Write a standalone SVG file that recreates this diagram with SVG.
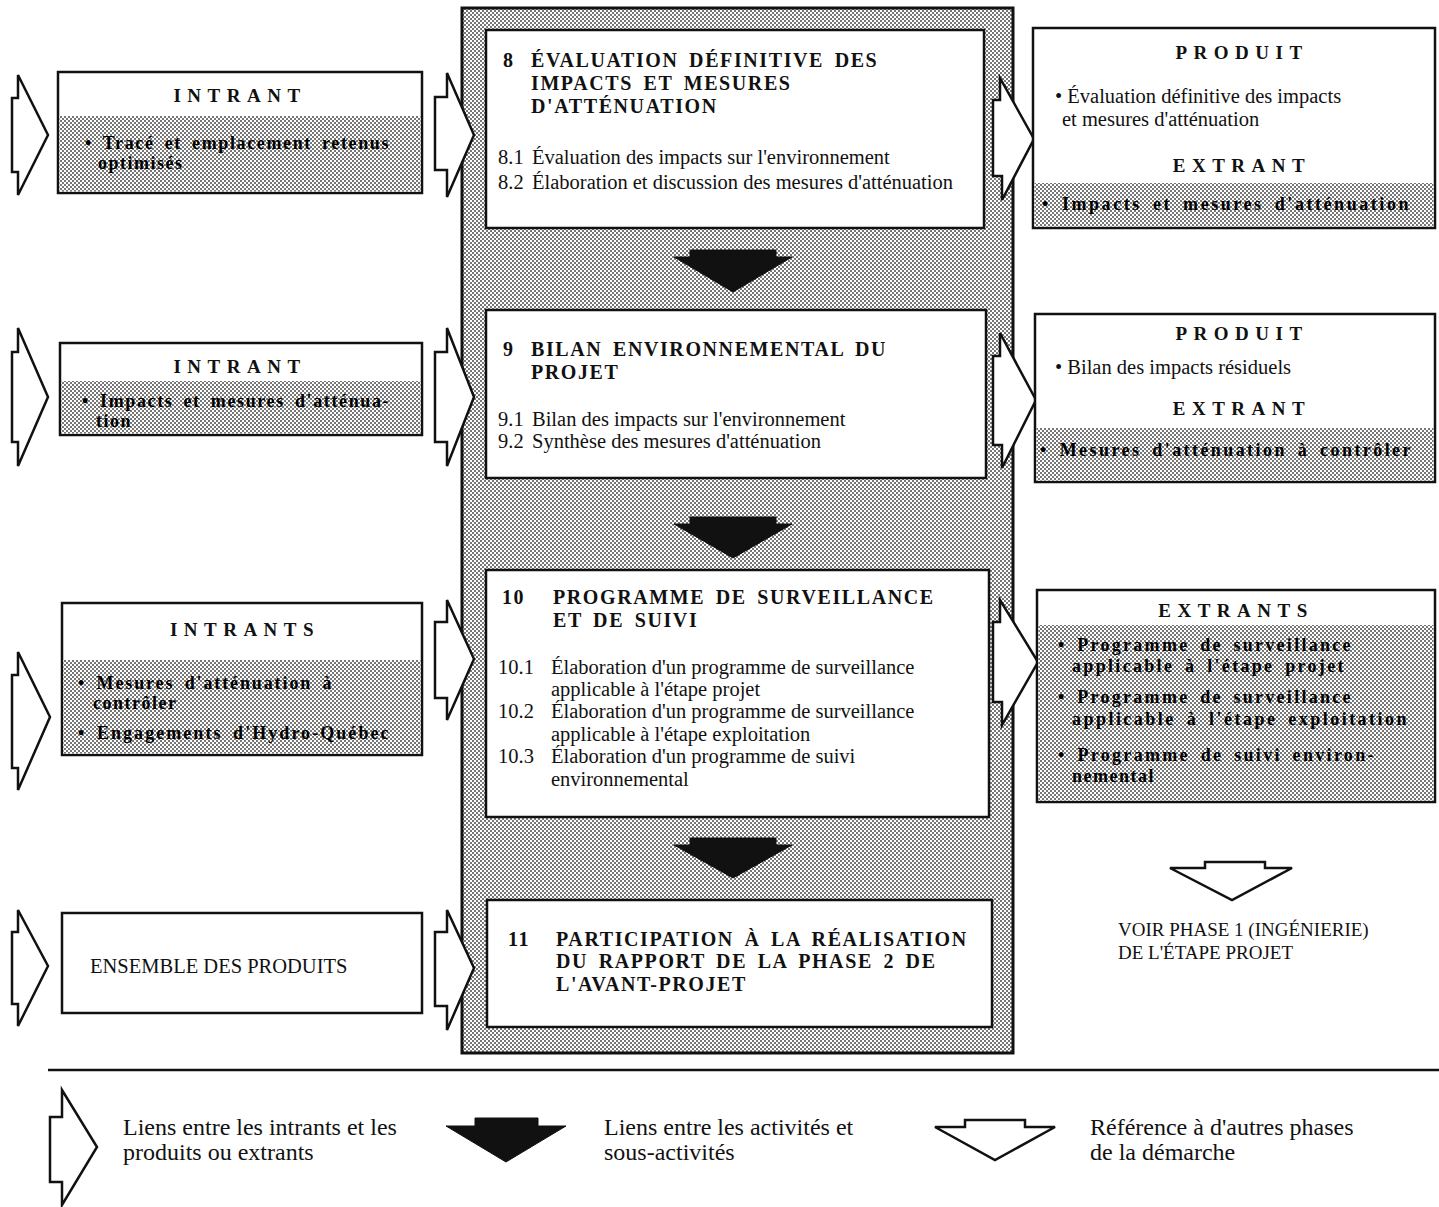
<svg xmlns="http://www.w3.org/2000/svg" width="1439" height="1207" viewBox="0 0 1439 1207">
<defs>
<pattern id="dots" width="4" height="4" patternUnits="userSpaceOnUse">
<rect width="4" height="4" fill="#ffffff"/>
<rect x="0" y="0" width="2" height="2" fill="#777777"/>
<rect x="2" y="2" width="2" height="2" fill="#777777"/>
</pattern>
</defs>
<style>
.box{fill:#fff;stroke:#111;stroke-width:2.5}
.shade{fill:url(#dots);stroke:none}
.col{fill:url(#dots);stroke:#111;stroke-width:3}
.harrow{fill:#fff;stroke:#111;stroke-width:2.5;stroke-linejoin:miter}
.barrow{fill:#111;stroke:#111;stroke-width:1}
.t{font-family:"Liberation Serif",serif;font-size:20px;font-weight:bold;letter-spacing:1.6px;word-spacing:4px;fill:#111}
.h{font-family:"Liberation Serif",serif;font-size:19px;font-weight:bold;letter-spacing:6.5px;fill:#111;text-anchor:middle}
.s{font-family:"Liberation Serif",serif;font-size:18px;font-weight:bold;letter-spacing:1.5px;word-spacing:4px;fill:#000}
.b{font-family:"Liberation Serif",serif;font-size:20.5px;fill:#111}
.c{font-family:"Liberation Serif",serif;font-size:19px;fill:#111}
.l{font-family:"Liberation Serif",serif;font-size:24px;fill:#111}
</style>
<rect width="1439" height="1207" fill="#fff"/>

<g id="column">
<rect class="col" x="462" y="8" width="551" height="1045"/>
</g>

<g id="connectors">
<!-- left input arrows -->
<polygon class="harrow" points="18,75 18,98 12,98 12,172 18,172 18,195 48,135"/>
<polygon class="harrow" points="18,328 18,352 12,352 12,442 18,442 18,466 48,397"/>
<polygon class="harrow" points="18,652 18,675 12,675 12,768 18,768 18,790 50,717"/>
<polygon class="harrow" points="18,910 18,932 12,932 12,1004 18,1004 18,1026 48,966"/>
<!-- arrows into centre -->
<polygon class="harrow" points="447,73 447,97 435,97 435,170 447,170 447,197 474,135"/>
<polygon class="harrow" points="447,328 447,352 435,352 435,442 447,442 447,466 474,397"/>
<polygon class="harrow" points="447,600 447,622 435,622 435,698 447,698 447,720 474,659"/>
<polygon class="harrow" points="447,910 447,932 435,932 435,1006 447,1006 447,1030 474,968"/>
<!-- arrows out of centre -->
<polygon class="harrow" points="1000,78 1000,100 993,100 993,176 1002,176 1002,200 1034,139"/>
<polygon class="harrow" points="1000,333 1000,356 993,356 993,445 1002,445 1002,468 1036,400"/>
<polygon class="harrow" points="1000,600 1000,622 993,622 993,702 1002,702 1002,725 1038,662"/>
<!-- black arrows between activities -->
<polygon class="barrow" points="690,250 776,250 776,257 792,257 733,292 674,257 690,257"/>
<polygon class="barrow" points="690,517 776,517 776,524 792,524 733,558 674,524 690,524"/>
<polygon class="barrow" points="690,838 776,838 776,845 792,845 733,878 674,845 690,845"/>
<!-- reference arrow -->
<polygon class="harrow" points="1205,862 1265,862 1265,868 1292,868 1232,900 1170,868 1205,868"/>
</g>

<g id="act8">
<rect class="box" x="486" y="30" width="498" height="198"/>
<text class="t" x="503" y="67">8</text>
<text class="t" x="531" y="67">ÉVALUATION DÉFINITIVE DES</text>
<text class="t" x="531" y="90">IMPACTS ET MESURES</text>
<text class="t" x="531" y="113">D'ATTÉNUATION</text>
<text class="b" x="498" y="164">8.1</text>
<text class="b" x="532" y="164">Évaluation des impacts sur l'environnement</text>
<text class="b" x="498" y="189">8.2</text>
<text class="b" x="532" y="189">Élaboration et discussion des mesures d'atténuation</text>
</g>

<g id="act9">
<rect class="box" x="486" y="310" width="500" height="168"/>
<text class="t" x="503" y="356">9</text>
<text class="t" x="531" y="356">BILAN ENVIRONNEMENTAL DU</text>
<text class="t" x="531" y="379">PROJET</text>
<text class="b" x="498" y="426">9.1</text>
<text class="b" x="532" y="426">Bilan des impacts sur l'environnement</text>
<text class="b" x="498" y="448">9.2</text>
<text class="b" x="532" y="448">Synthèse des mesures d'atténuation</text>
</g>

<g id="act10">
<rect class="box" x="486" y="570" width="503" height="247"/>
<text class="t" x="502" y="604">10</text>
<text class="t" x="553" y="604">PROGRAMME DE SURVEILLANCE</text>
<text class="t" x="553" y="627">ET DE SUIVI</text>
<text class="b" x="498" y="674">10.1</text>
<text class="b" x="551" y="674">Élaboration d'un programme de surveillance</text>
<text class="b" x="551" y="696">applicable à l'étape projet</text>
<text class="b" x="498" y="718">10.2</text>
<text class="b" x="551" y="718">Élaboration d'un programme de surveillance</text>
<text class="b" x="551" y="741">applicable à l'étape exploitation</text>
<text class="b" x="498" y="763">10.3</text>
<text class="b" x="551" y="763">Élaboration d'un programme de suivi</text>
<text class="b" x="551" y="786">environnemental</text>
</g>

<g id="act11">
<rect class="box" x="487" y="900" width="505" height="127"/>
<text class="t" x="508" y="946">11</text>
<text class="t" x="556" y="946">PARTICIPATION À LA RÉALISATION</text>
<text class="t" x="556" y="968">DU RAPPORT DE LA PHASE 2 DE</text>
<text class="t" x="556" y="991">L'AVANT-PROJET</text>
</g>

<g id="in8">
<rect class="box" x="58" y="72" width="364" height="121"/>
<rect class="shade" x="59.5" y="116" width="361" height="75.5"/>
<text class="h" x="240" y="102">INTRANT</text>
<text class="s" x="85" y="149" textLength="305" lengthAdjust="spacing">• Tracé et emplacement retenus</text>
<text class="s" x="98" y="169">optimisés</text>
</g>

<g id="in9">
<rect class="box" x="60" y="343" width="362" height="92"/>
<rect class="shade" x="61.5" y="381" width="359" height="52.5"/>
<text class="h" x="240" y="373">INTRANT</text>
<text class="s" x="82" y="407" textLength="308" lengthAdjust="spacing">• Impacts et mesures d'atténua-</text>
<text class="s" x="96" y="427">tion</text>
</g>

<g id="in10">
<rect class="box" x="62" y="603" width="360" height="152"/>
<rect class="shade" x="63.5" y="660" width="357" height="93.5"/>
<text class="h" x="245" y="636">INTRANTS</text>
<text class="s" x="78" y="689" textLength="255" lengthAdjust="spacing">• Mesures d'atténuation à</text>
<text class="s" x="93" y="709">contrôler</text>
<text class="s" x="78" y="739" textLength="312" lengthAdjust="spacing">• Engagements d'Hydro-Québec</text>
</g>

<g id="in11">
<rect class="box" x="62" y="913" width="360" height="100"/>
<text class="b" x="90" y="973">ENSEMBLE DES PRODUITS</text>
</g>

<g id="out8">
<rect class="box" x="1033" y="28" width="402" height="200"/>
<rect class="shade" x="1034.5" y="183" width="399" height="43.5"/>
<text class="h" x="1242" y="59">PRODUIT</text>
<text class="b" x="1055" y="103">• Évaluation définitive des impacts</text>
<text class="b" x="1062" y="126">et mesures d'atténuation</text>
<text class="h" x="1242" y="172">EXTRANT</text>
<text class="s" x="1042" y="210" textLength="368" lengthAdjust="spacing">• Impacts et mesures d'atténuation</text>
</g>

<g id="out9">
<rect class="box" x="1035" y="314" width="400" height="168"/>
<rect class="shade" x="1036.5" y="428" width="397" height="52.5"/>
<text class="h" x="1242" y="340">PRODUIT</text>
<text class="b" x="1055" y="374">• Bilan des impacts résiduels</text>
<text class="h" x="1242" y="415">EXTRANT</text>
<text class="s" x="1040" y="456" textLength="372" lengthAdjust="spacing">• Mesures d'atténuation à contrôler</text>
</g>

<g id="out10">
<rect class="box" x="1037" y="590" width="398" height="212"/>
<rect class="shade" x="1038.5" y="625" width="395" height="175.5"/>
<text class="h" x="1236" y="617">EXTRANTS</text>
<text class="s" x="1058" y="651" textLength="294" lengthAdjust="spacing">• Programme de surveillance</text>
<text class="s" x="1072" y="672" textLength="273" lengthAdjust="spacing">applicable à l'étape projet</text>
<text class="s" x="1058" y="703" textLength="294" lengthAdjust="spacing">• Programme de surveillance</text>
<text class="s" x="1072" y="725" textLength="336" lengthAdjust="spacing">applicable à l'étape exploitation</text>
<text class="s" x="1058" y="761" textLength="317" lengthAdjust="spacing">• Programme de suivi environ-</text>
<text class="s" x="1072" y="782">nemental</text>
</g>

<g id="ref">
<text class="c" x="1118" y="936">VOIR PHASE 1 (INGÉNIERIE)</text>
<text class="c" x="1118" y="959">DE L'ÉTAPE PROJET</text>
</g>

<g id="legend">
<line x1="48" y1="1070" x2="1439" y2="1070" stroke="#111" stroke-width="2.5"/>
<polygon class="harrow" points="62,1090 62,1117 50,1117 50,1182 62,1182 62,1205 97,1147"/>
<text class="l" x="123" y="1135">Liens entre les intrants et les</text>
<text class="l" x="123" y="1160">produits ou extrants</text>
<polygon class="barrow" points="475,1118 538,1118 538,1126 566,1126 506,1162 446,1126 475,1126"/>
<text class="l" x="604" y="1135">Liens entre les activités et</text>
<text class="l" x="604" y="1160">sous-activités</text>
<polygon class="harrow" points="965,1120 1025,1120 1025,1127 1055,1127 995,1160 935,1127 965,1127"/>
<text class="l" x="1090" y="1135">Référence à d'autres phases</text>
<text class="l" x="1090" y="1160">de la démarche</text>
</g>
</svg>
